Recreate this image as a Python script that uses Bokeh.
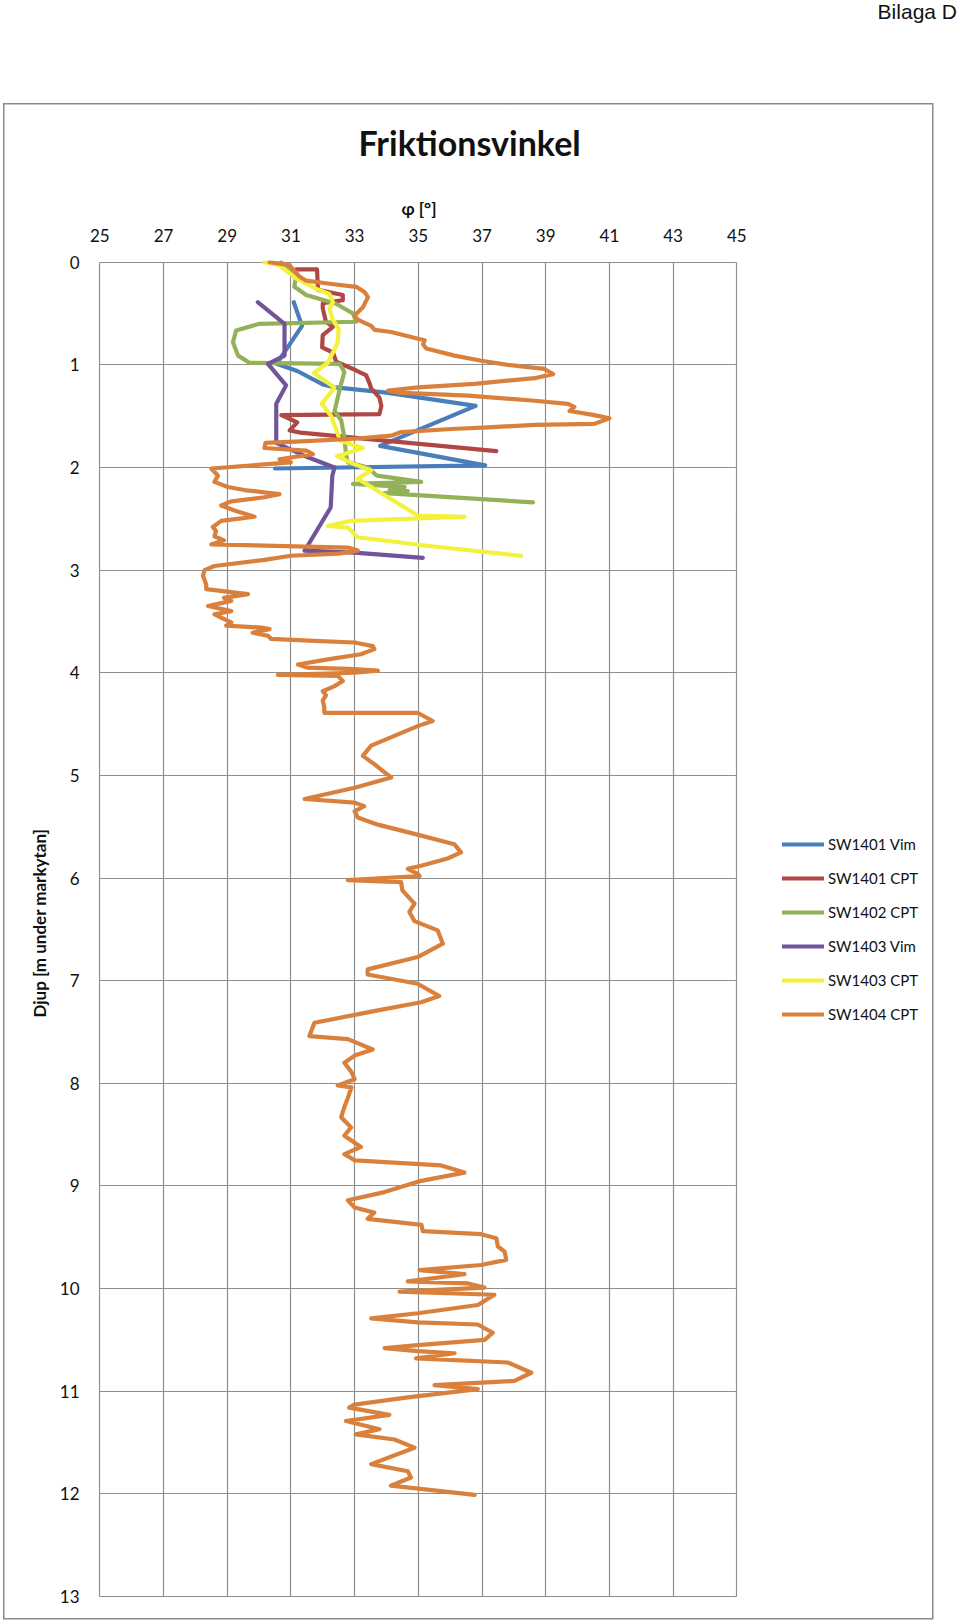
from bokeh.plotting import figure
from bokeh.models import Range1d, FixedTicker, Legend, LegendItem, Title, Div
from bokeh.layouts import column
from bokeh.embed import file_html
from bokeh.resources import INLINE

# ---------------- data ----------------
x_ticks = [25, 27, 29, 31, 33, 35, 37, 39, 41, 43, 45]
y_ticks = list(range(0, 14))

series_names = ["SW1401 Vim", "SW1401 CPT", "SW1402 CPT", "SW1403 Vim", "SW1403 CPT", "SW1404 CPT"]
series_colors = ["#4a7ebb", "#b04744", "#93b158", "#71549a", "#f2f23c", "#d9813c"]

sw1401_vim_phi = [31.09, 31.35, 30.55, 31.2, 32.0, 32.4, 34.0, 36.8, 33.8, 37.1, 30.5]
sw1401_vim_depth = [0.39, 0.62, 0.99, 1.06, 1.19, 1.22, 1.27, 1.40, 1.79, 1.98, 2.01]

sw1401_cpt_phi = [31.17, 31.82, 31.85, 32.63, 32.63, 32.0, 32.0, 32.1, 32.32, 32.0, 31.98, 32.32,
                  32.42, 32.95, 33.15, 33.36, 33.47, 33.52, 33.78, 33.84, 33.78, 30.7, 31.2, 30.96,
                  31.3, 34.36, 37.45]
sw1401_cpt_depth = [0.07, 0.07, 0.27, 0.32, 0.37, 0.40, 0.45, 0.58, 0.63, 0.71, 0.83, 0.88,
                    0.97, 1.04, 1.07, 1.10, 1.18, 1.23, 1.32, 1.40, 1.48, 1.49, 1.56, 1.64,
                    1.66, 1.75, 1.84]

sw1402_cpt_phi = [30.69, 31.17, 31.11, 31.48, 32.42, 32.95, 33.05, 30.01, 29.28, 29.18, 29.34, 29.7,
                  32.53, 32.68, 32.58, 32.47, 32.37, 32.58, 32.68, 32.73, 32.79, 33.42, 33.7, 35.09,
                  32.95, 34.57, 34.1, 34.67, 33.94, 38.6]
sw1402_cpt_depth = [0.0, 0.11, 0.24, 0.32, 0.405, 0.50, 0.58, 0.60, 0.665, 0.78, 0.91, 0.98,
                    0.99, 1.07, 1.18, 1.32, 1.45, 1.54, 1.71, 1.87, 1.95, 2.0, 2.08, 2.14,
                    2.16, 2.19, 2.21, 2.23, 2.25, 2.34]

sw1403_vim_phi = [29.96, 30.8, 30.8, 30.28, 30.85, 30.54, 30.54, 31.45, 32.37, 32.3, 32.25, 31.53,
                  31.43, 33.0, 35.14]
sw1403_vim_depth = [0.39, 0.60, 0.91, 0.99, 1.20, 1.38, 1.76, 1.89, 2.0, 2.08, 2.39, 2.76,
                    2.81, 2.83, 2.88]

sw1403_cpt_phi = [30.17, 30.64, 31.17, 31.8, 32.21, 32.32, 32.21, 32.3, 32.5, 32.47, 32.32, 32.16,
                  31.72, 32.37, 31.97, 32.27, 32.42, 32.55, 33.26, 32.45, 33.0, 33.52, 33.1, 33.63,
                  34.99, 36.45, 32.89, 32.16, 32.79, 33.1, 35.2, 38.23]
sw1403_cpt_depth = [0.0, 0.03, 0.16, 0.26, 0.31, 0.39, 0.45, 0.55, 0.65, 0.78, 0.88, 0.98,
                    1.08, 1.22, 1.38, 1.5, 1.63, 1.74, 1.81, 1.89, 1.97, 2.03, 2.11, 2.21,
                    2.47, 2.48, 2.52, 2.57, 2.585, 2.68, 2.76, 2.86]

sw1404_cpt_phi = [
    30.33, 30.96, 31.27, 31.48, 32.21, 33.05, 33.31, 33.42, 33.26, 33.0, 33.1, 33.52, 33.63, 34.15,
    34.99, 35.2, 35.15, 35.25, 36.14, 36.98, 37.81, 38.96, 39.23, 38.65, 36.76, 34.99, 34.05, 34.36,
    36.56, 38.65, 39.7, 39.9, 39.75, 40.53, 41.0, 40.53, 38.65, 37.18, 36.03, 34.46, 34.15, 33.0,
    31.32, 30.2, 30.17, 31.48, 31.69, 30.64, 31.0, 28.5, 28.71, 28.6, 29.02, 29.54, 30.64, 30.17,
    29.13, 28.81, 29.23, 29.86, 28.81, 28.55, 28.65, 28.6, 28.9, 28.5, 32.79, 33.1, 32.5, 31.0,
    30.17, 28.6, 28.29, 28.24, 28.34, 28.34, 29.65, 28.9, 29.13, 28.4, 29.13, 28.6, 28.92, 29.13,
    28.97, 30.07, 30.33, 29.8, 30.28, 30.38, 31.74, 33.0, 33.57, 33.62, 33.2, 32.16, 31.22, 31.53,
    33.0, 33.73, 33.0, 30.59, 32.47, 32.63, 32.37, 32.0, 32.1, 32.0, 32.05, 32.05, 34.98, 35.45,
    34.98, 34.36, 33.52, 33.26, 33.62, 33.94, 34.15, 33.0, 31.43, 33.0, 33.3, 33.0, 33.1, 33.73,
    34.88, 36.13, 36.34, 35.92, 35.09, 34.67, 34.98, 35.04, 32.79, 34.46, 34.5, 34.88, 34.72, 34.88,
    35.61, 35.77, 34.98, 33.41, 33.41, 34.98, 35.66, 35.09, 33.73, 31.74, 31.58, 32.79, 33.57, 33.0,
    32.68, 32.9, 33.0, 32.47, 32.9, 32.79, 32.68, 32.58, 32.89, 32.68, 33.2, 32.68, 33.0, 35.72,
    36.45, 35.09, 33.94, 32.79, 33.0, 33.62, 33.41, 35.1, 35.14, 36.97, 37.45, 37.5, 37.71, 37.76,
    36.97, 35.04, 36.45, 34.67, 36.56, 37.08, 34.41, 37.39, 36.87, 34.98, 33.52, 34.98, 36.87, 37.34,
    37.08, 34.98, 33.94, 34.98, 36.14, 34.93, 37.81, 38.55, 38.02, 35.51, 36.87, 34.67, 32.99, 32.83,
    34.09, 32.73, 33.78, 33.04, 34.25, 34.88, 33.52, 34.67, 34.77, 34.14, 36.77]
sw1404_cpt_depth = [
    0.0, 0.03, 0.14, 0.18, 0.21, 0.24, 0.29, 0.34, 0.44, 0.52, 0.56, 0.62, 0.66, 0.68,
    0.745, 0.76, 0.80, 0.84, 0.91, 0.96, 1.0, 1.04, 1.09, 1.13, 1.185, 1.22, 1.25, 1.27,
    1.30, 1.35, 1.38, 1.41, 1.45, 1.49, 1.52, 1.575, 1.585, 1.61, 1.625, 1.655, 1.69, 1.72,
    1.745, 1.76, 1.81, 1.835, 1.87, 1.92, 1.95, 2.01, 2.08, 2.14, 2.19, 2.22, 2.26, 2.29,
    2.33, 2.37, 2.42, 2.48, 2.52, 2.58, 2.62, 2.67, 2.71, 2.75, 2.78, 2.81, 2.84, 2.86,
    2.90, 2.96, 3.0, 3.055, 3.14, 3.185, 3.234, 3.27, 3.30, 3.35, 3.40, 3.43, 3.48, 3.51,
    3.54, 3.56, 3.575, 3.61, 3.64, 3.67, 3.69, 3.705, 3.74, 3.77, 3.82, 3.87, 3.92, 3.95,
    3.965, 3.98, 4.0, 4.02, 4.03, 4.08, 4.13, 4.18, 4.22, 4.27, 4.34, 4.39, 4.39, 4.47,
    4.52, 4.60, 4.71, 4.81, 4.89, 4.97, 5.02, 5.12, 5.23, 5.265, 5.30, 5.35, 5.41, 5.48,
    5.57, 5.67, 5.75, 5.81, 5.88, 5.91, 5.96, 5.98, 6.02, 6.04, 6.12, 6.25, 6.33, 6.42,
    6.51, 6.64, 6.77, 6.89, 6.94, 7.03, 7.15, 7.21, 7.29, 7.41, 7.54, 7.57, 7.67, 7.73,
    7.80, 7.89, 7.96, 8.02, 8.04, 8.14, 8.23, 8.33, 8.43, 8.51, 8.62, 8.69, 8.75, 8.80,
    8.87, 8.95, 9.06, 9.14, 9.21, 9.26, 9.32, 9.38, 9.44, 9.47, 9.51, 9.59, 9.64, 9.72,
    9.77, 9.82, 9.86, 9.93, 9.95, 9.99, 10.03, 10.06, 10.16, 10.24, 10.29, 10.33, 10.35, 10.43,
    10.50, 10.55, 10.58, 10.61, 10.63, 10.68, 10.72, 10.82, 10.90, 10.94, 10.98, 11.06, 11.13, 11.16,
    11.23, 11.29, 11.37, 11.42, 11.47, 11.55, 11.71, 11.78, 11.84, 11.92, 12.01]

series_phi = [sw1401_vim_phi, sw1401_cpt_phi, sw1402_cpt_phi, sw1403_vim_phi, sw1403_cpt_phi, sw1404_cpt_phi]
series_depth = [sw1401_vim_depth, sw1401_cpt_depth, sw1402_cpt_depth, sw1403_vim_depth, sw1403_cpt_depth, sw1404_cpt_depth]

title_text = "Friktionsvinkel"
x_label = "φ [°]"
y_label = "Djup [m under markytan]"
corner_text = "Bilaga D"

# ---------------- layout (pixels) ----------------
HEAD_H = 26                      # strip holding "Bilaga D"
FIG_W, FIG_H = 960, 1596
# frame in figure pixels (wide enough to hold the legend, so nothing is clipped)
FRAME_L, FRAME_R, FRAME_T, FRAME_B = 98, 930, 234, 1572
# where the chart's value extremes must land (figure pixels)
PX_X0, PX_X1 = 99.3, 736.3       # phi 25 .. 45
PX_Y0, PX_Y1 = 235.7, 1570.0     # depth 0 .. 13
XMIN, XMAX = x_ticks[0], x_ticks[-1]
YMIN, YMAX = y_ticks[0], y_ticks[-1]
sx = (PX_X1 - PX_X0) / (XMAX - XMIN)
sy = (PX_Y1 - PX_Y0) / (YMAX - YMIN)
x_start = XMIN - (PX_X0 - FRAME_L) / sx
x_end = XMAX + (FRAME_R - PX_X1) / sx
y_top = YMIN - (PX_Y0 - FRAME_T) / sy
y_bottom = YMAX + (FRAME_B - PX_Y1) / sy

GRID = "#8e8e8e"
BOX = "#8a8a8a"
FONT = "Lato"

header = Div(text=corner_text, width=957, height=HEAD_H, margin=0,
             styles={"font-family": "'Liberation Sans', Arial, sans-serif", "font-size": "21px",
                     "text-align": "right", "color": "#111111", "line-height": "24px"})

# outer chart border (drawn behind the transparent plot border area)
bx, by, bw, bh, lw = 3, 103 - HEAD_H, 930, 1516, 1.5
line = "linear-gradient(%s,%s)" % (BOX, BOX)
box_bg = ", ".join([
    "%s %spx %spx / %spx %spx no-repeat" % (line, bx, by, bw, lw),
    "%s %spx %spx / %spx %spx no-repeat" % (line, bx, by + bh - lw, bw, lw),
    "%s %spx %spx / %spx %spx no-repeat" % (line, bx, by, lw, bh),
    "%s %spx %spx / %spx %spx no-repeat" % (line, bx + bw - lw, by, lw, bh),
])

p = figure(width=FIG_W, height=FIG_H, output_backend="svg", toolbar_location=None,
           x_range=Range1d(x_start, x_end), y_range=Range1d(y_bottom, y_top),
           x_axis_location="above",
           min_border_left=FRAME_L, min_border_right=FIG_W - FRAME_R,
           min_border_top=FRAME_T, min_border_bottom=FIG_H - FRAME_B, title=None, margin=0)
p.styles = {"background": box_bg}
p.background_fill_color = "white"
p.border_fill_alpha = 0
p.outline_line_color = None

p.xaxis.ticker = FixedTicker(ticks=x_ticks)
p.yaxis.ticker = FixedTicker(ticks=y_ticks)
p.xaxis.bounds = (XMIN, XMAX)
p.yaxis.bounds = (YMIN, YMAX)
p.xgrid.ticker = FixedTicker(ticks=x_ticks)
p.ygrid.ticker = FixedTicker(ticks=y_ticks)
for g in (p.xgrid, p.ygrid):
    g.grid_line_color = GRID
    g.grid_line_width = 1.2

try:
    p.xgrid.cross_bounds = (YMIN, YMAX)
    p.ygrid.cross_bounds = (XMIN, XMAX)
except Exception:
    # fallback: draw the grid from the tick lists with the plot's own scales
    p.xgrid.visible = False
    p.ygrid.visible = False
    p.segment(x0=x_ticks, x1=x_ticks, y0=[YMIN] * len(x_ticks), y1=[YMAX] * len(x_ticks),
              line_color=GRID, line_width=1.2)
    p.segment(x0=[XMIN] * len(y_ticks), x1=[XMAX] * len(y_ticks), y0=y_ticks, y1=y_ticks,
              line_color=GRID, line_width=1.2)

for ax in (p.xaxis, p.yaxis):
    ax.axis_line_color = None
    ax.major_tick_line_color = None
    ax.minor_tick_line_color = None
    ax.major_tick_out = 0
    ax.major_tick_in = 0
    ax.minor_tick_out = 0
    ax.major_label_text_font = FONT
    ax.major_label_text_font_size = "17px"
    ax.major_label_text_color = "#111111"
    ax.axis_label = None

p.xaxis.major_label_standoff = 19
p.yaxis.major_label_standoff = 19

renderers = []
for name, col, xs, ys in zip(series_names, series_colors, series_phi, series_depth):
    r = p.line(xs, ys, line_color=col, line_width=4.2, line_join="round", line_cap="round")
    renderers.append(r)

# legend inside the (wide) frame: screen offset from the frame's bottom-left corner
legend = Legend(items=[LegendItem(label=n, renderers=[r]) for n, r in zip(series_names, renderers)],
                location=(684, 574), padding=0, margin=0, spacing=14,
                glyph_width=42, glyph_height=20, label_height=20, label_standoff=4,
                label_text_font=FONT, label_text_font_size="15px", label_text_color="#111111",
                border_line_color=None, background_fill_alpha=0)
p.add_layout(legend, "center")

# axis titles, placed over the 25..45 / 0..13 span rather than the whole frame
p.add_layout(Title(text=x_label, align="left", offset=303, standoff=14,
                   text_font=FONT, text_font_style="bold", text_font_size="17px",
                   text_color="#111111"), "above")
p.add_layout(Title(text=title_text, align="left", offset=260, standoff=51,
                   text_font=FONT, text_font_style="bold", text_font_size="34px",
                   text_color="#111111"), "above")
p.add_layout(Title(text=y_label, align="left", offset=581, standoff=14,
                   text_font=FONT, text_font_style="bold", text_font_size="17px",
                   text_color="#111111"), "left")

layout = column(header, p, spacing=0)
open("out.html", "w").write(file_html(layout, INLINE))
